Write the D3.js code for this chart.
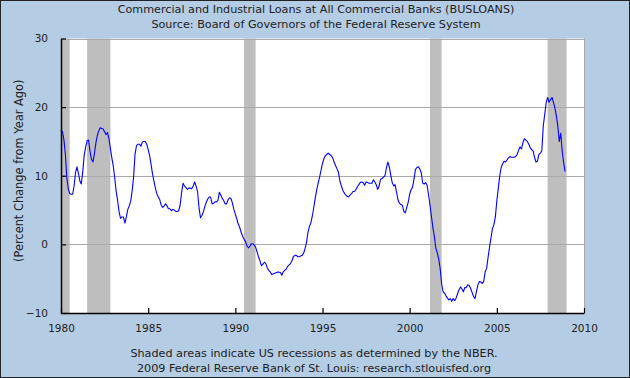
<!DOCTYPE html>
<html><head><meta charset="utf-8">
<script src="https://cdn.jsdelivr.net/npm/d3@7"></script>
<style>
html,body{margin:0;padding:0;background:#B4CCE4;}
svg{display:block;}
text{font-family:"DejaVu Sans",Verdana,sans-serif;fill:#222;}
</style></head>
<body>
<script>
// ---------- data ----------
const titleLines = ["Commercial and Industrial Loans at All Commercial Banks (BUSLOANS)",
                    "Source: Board of Governors of the Federal Reserve System"];
const yLabel = "(Percent Change from Year Ago)";
const noteLines = ["Shaded areas indicate US recessions as determined by the NBER.",
                   "2009 Federal Reserve Bank of St. Louis: research.stlouisfed.org"];
const startMonth = "1980-01";   // first monthly observation
const values = [
 16.7,16.4,15.3,13.2,9.8,8.1,7.4,7.3,7.3,8.5,
 10.5,11.3,10.3,9.2,8.8,10.6,13,14.2,15.1,15.2,
 13.5,12.4,12,13.2,14.8,15.9,16.5,17,16.9,16.8,
 16.4,16.0,16.3,15.4,14,12.6,11.4,9.6,7.8,6.4,
 4.8,3.8,4.0,4.0,3.1,4.0,5.1,5.6,6.3,7.9,
 9.8,13.2,14.4,14.6,14.6,14.3,14.9,15,15,14.6,
 13.8,12.9,11.7,10.3,9.2,8.2,7.4,6.9,6.5,5.7,
 5.4,5.6,5.9,5.6,5.2,5.2,4.9,5.1,5,4.8,
 4.8,4.9,5.7,7.5,8.9,8.5,8.3,8,8.2,8.2,
 8.1,8.5,9.1,8.5,7.7,5.4,3.9,4.2,4.7,5.5,
 6.1,6.6,6.9,6.9,5.9,6,6.2,6.2,6.4,7.6,
 7.2,6.7,6.4,5.9,5.9,6.5,6.8,6.7,6,5.1,
 4.4,3.7,3.0,2.5,1.8,1.2,0.8,0.4,-0.2,-0.5,
 -0.3,0.1,0.1,-0.1,-0.4,-1.1,-1.8,-2.4,-3.1,-2.9,
 -2.6,-2.8,-3.4,-3.8,-4.0,-4.4,-4.3,-4.2,-4.15,-4.05,
 -4.05,-4.1,-4.5,-4.0,-3.8,-3.6,-3.2,-3.0,-2.8,-2.4,
 -1.8,-1.6,-1.6,-1.8,-1.8,-1.7,-1.6,-1.3,-0.6,0.3,
 1.7,2.6,3.1,4.1,5.3,6.7,7.9,8.9,9.8,10.8,
 11.8,12.5,12.9,13.1,13.3,13.1,12.95,12.65,12,11.5,
 11,10.5,9.2,8.5,7.9,7.5,7.2,7,6.9,7.2,
 7.4,7.7,7.7,8,8.4,8.7,9,9.1,9,8.6,
 9.1,9,8.9,8.9,8.9,9.4,9.1,8.7,8.0,8.5,
 9.5,9.6,9.8,10,11.1,12,11.3,10.1,9.0,8.5,
 8.7,7.6,6.5,6,5.8,5.7,4.8,4.6,5.4,6.1,
 7.3,8.0,8.3,9.5,10.9,11.2,11.3,11.0,10.4,8.9,
 8.8,9.0,8.6,7.2,5.8,4.1,2.5,1.2,-0.5,-1.2,
 -2.1,-3.5,-5.7,-6.9,-7.1,-7.5,-7.8,-8.1,-7.9,-8.3,
 -7.9,-8.2,-7.8,-7.2,-6.6,-6.2,-6.5,-6.9,-6.3,-6.3,
 -5.9,-6.0,-6.4,-7.0,-7.6,-7.9,-6.9,-5.9,-5.4,-5.5,
 -5.7,-5.4,-4.0,-3.5,-1.9,-0.4,1.0,2.3,2.9,4.0,
 6.4,8.2,9.9,11.2,11.7,12.1,12,12.3,12.6,12.8,
 12.7,12.7,12.7,12.8,13.1,13.7,14.2,13.9,14.8,15.4,
 15.2,15.0,14.6,14.1,13.8,13.6,12.7,12,12.1,13.1,
 13.3,13.6,17.3,18.9,20.7,21.4,20.7,21.1,21.4,20.7,
 19.9,18.7,17.3,15.0,16.2,13.6,11.9,10.6
];
const recStart = ["1980-01","1981-07","1990-07","2001-03","2007-12"];
const recEnd   = ["1980-07","1982-11","1991-03","2001-11","2009-01"];
const yTicks = [-10,0,10,20,30];
const yGrid = [0,10,20,30];
const xTickYears = [1980,1985,1990,1995,2000,2005,2010];

// ---------- drawing ----------
const W = 630, H = 378;
const parseM = d3.timeParse("%Y-%m");
const t0 = parseM(startMonth);
const data = values.map((v,i)=>({date:d3.timeMonth.offset(t0,i), v}));

const svg = d3.select("body").append("svg").attr("width",W).attr("height",H);
svg.append("rect").attr("x",0.5).attr("y",0.5).attr("width",W-1).attr("height",H-1)
   .attr("fill","#B4CCE4").attr("stroke","#222").attr("stroke-width",1);

const x = d3.scaleTime().domain([new Date(1980,0,1), new Date(2010,0,1)]).range([61,584]);
const y = d3.scaleLinear().domain([-10,30]).range([313,38.5]);

// plot background
svg.append("rect").attr("x",x.range()[0]).attr("y",y(30))
   .attr("width",x.range()[1]-x.range()[0]).attr("height",y(-10)-y(30)).attr("fill","#fff");

// recessions
svg.append("g").selectAll("rect").data(recStart.map((s,i)=>[parseM(s),parseM(recEnd[i])]))
  .join("rect")
  .attr("x",d=>x(d[0])).attr("width",d=>x(d[1])-x(d[0]))
  .attr("y",y(30)).attr("height",y(-10)-y(30)).attr("fill","#BEBEBE");

// grid
svg.append("g").selectAll("line").data(yGrid).join("line")
  .attr("x1",x.range()[0]).attr("x2",x.range()[1])
  .attr("y1",d=>Math.round(y(d))+0.5).attr("y2",d=>Math.round(y(d))+0.5)
  .attr("stroke","#AAAAAA").attr("stroke-width",1);
svg.append("line").attr("x1",Math.round(x.range()[1])+0.5).attr("x2",Math.round(x.range()[1])+0.5)
  .attr("y1",y(30)).attr("y2",y(-10)).attr("stroke","#AAAAAA");

// line
const line = d3.line().x(d=>x(d.date)).y(d=>y(d.v));
svg.append("path").datum(data).attr("d",line).attr("fill","none")
  .attr("stroke","#0000FF").attr("stroke-width",1.1).attr("stroke-linejoin","round");

// axes
const yAxis = d3.axisLeft(y).tickValues(yTicks).tickSizeInner(-5).tickSizeOuter(0).tickPadding(13);
const gy = svg.append("g").attr("transform",`translate(${x.range()[0]},0)`).call(yAxis);
const xAxis = d3.axisBottom(x).tickValues(xTickYears.map(yr=>new Date(yr,0,1)))
  .tickFormat(d3.timeFormat("%Y")).tickSizeInner(-5).tickSizeOuter(0).tickPadding(12);
const gx = svg.append("g").attr("transform",`translate(0,${y(-10)})`).call(xAxis);
[gx,gy].forEach(g=>{
  g.select(".domain").attr("stroke","#000").attr("stroke-width",1.5);
  g.selectAll(".tick line").attr("stroke","#000").attr("stroke-width",1.2);
  g.selectAll("text").attr("font-family","DejaVu Sans, Verdana, sans-serif")
    .attr("font-size",10.5).attr("fill","#222");
});

// titles
svg.append("g").selectAll("text").data(titleLines).join("text")
  .attr("x",W/2+1).attr("y",(d,i)=>13+i*15).attr("text-anchor","middle")
  .attr("font-size",11.2).text(d=>d);
svg.append("g").selectAll("text").data(noteLines).join("text")
  .attr("x",W/2-1).attr("y",(d,i)=>357+i*15).attr("text-anchor","middle")
  .attr("font-size",11.2).text(d=>d);
svg.append("text").attr("transform",`translate(23,${(y(30)+y(-10))/2-5}) rotate(-90)`)
  .attr("text-anchor","middle").attr("font-size",11.4).text(yLabel);
</script>
</body></html>
